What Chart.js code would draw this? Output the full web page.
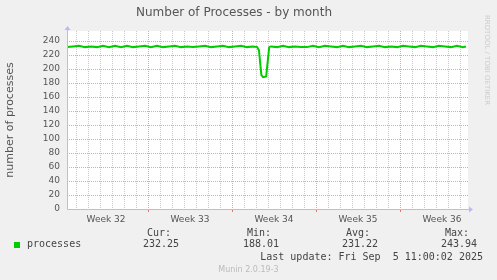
<!DOCTYPE html>
<html>
<head>
<meta charset="utf-8">
<script src="https://cdn.jsdelivr.net/npm/chart.js@4/dist/chart.umd.min.js"></script>
<style>
  html, body { margin: 0; padding: 0; background: #f0f0f0; }
  #wrap { position: relative; width: 497px; height: 280px; overflow: hidden; }
  #wrap canvas { position: absolute; left: 0; top: 0; }
  .lg { position: absolute; font-family: "DejaVu Sans Mono", monospace; font-size: 10px;
        line-height: 10px; color: #444; white-space: pre; }
  #swatch { position: absolute; left: 14px; top: 242px; width: 6px; height: 6px; background: #00cc00; }
  #munin { position: absolute; left: 0; width: 497px; top: 265px; text-align: center;
           font-family: "DejaVu Sans", sans-serif; font-size: 8px; color: #bbb; }
  #rrd { position: absolute; left: 491px; top: 15px; transform: rotate(90deg); transform-origin: 0 0;
         font-family: "DejaVu Sans", sans-serif; font-size: 7px; line-height: 8px; color: #ccc; white-space: pre; }
</style>
</head>
<body>
<div id="wrap">
  <canvas id="chart" width="497" height="280"></canvas>
  <div id="rrd">RRDTOOL / TOBI OETIKER</div>
  <div id="swatch"></div>
  <div class="lg" style="left:27px;top:239px">processes</div>
  <div class="lg" style="right:326px;top:228px">Cur:</div>
  <div class="lg" style="right:318px;top:239px">232.25</div>
  <div class="lg" style="right:226px;top:228px">Min:</div>
  <div class="lg" style="right:218px;top:239px">188.01</div>
  <div class="lg" style="right:127px;top:228px">Avg:</div>
  <div class="lg" style="right:119px;top:239px">231.22</div>
  <div class="lg" style="right:28px;top:228px">Max:</div>
  <div class="lg" style="right:20px;top:239px">243.94</div>
  <div class="lg" style="right:14px;top:252px">Last update: Fri Sep  5 11:00:02 2025</div>
  <div id="munin">Munin 2.0.19-3</div>
</div>
<script>
// days counted from the start of Week 33
const weekLabels = ['Week 32', 'Week 33', 'Week 34', 'Week 35', 'Week 36'];
const weekCenters = [-3.5, 3.5, 10.5, 17.5, 24.5];
const yTickStep = 10;

const times = [-6.75, -6.25, -5.75, -5.25, -4.75, -4.25, -3.75, -3.25, -2.75, -2.25,
  -1.75, -1.25, -0.75, -0.25, 0.25, 0.75, 1.25, 1.75, 2.25, 2.75,
  3.25, 3.75, 4.25, 4.75, 5.25, 5.75, 6.25, 6.75, 7.25, 7.75,
  8.25, 8.75, 9.1, 9.25, 9.45, 9.6, 9.85, 9.95, 10.1, 10.25,
  10.75, 11.25, 11.75, 12.25, 12.75, 13.25, 13.75, 14.25, 14.75, 15.25,
  15.75, 16.25, 16.75, 17.25, 17.75, 18.25, 18.75, 19.25, 19.75, 20.25,
  20.75, 21.25, 21.75, 22.25, 22.75, 23.25, 23.75, 24.25, 24.75, 25.25,
  25.75, 26.25, 26.5];
const processes = [231, 232, 233, 231, 232, 231, 233, 231, 233, 231,
  233, 231, 232, 233, 231, 233, 231, 232, 233, 231,
  232, 231, 232, 233, 231, 232, 233, 231, 232, 233,
  231, 232, 231, 226, 191, 188, 189, 206, 231, 232,
  231, 233, 231, 232, 231, 231, 233, 231, 233, 232,
  231, 233, 231, 232, 233, 231, 232, 233, 231, 232,
  231, 233, 232, 231, 233, 232, 231, 233, 232, 231,
  233, 231, 232];

const X_MIN = -6.75, X_MAX = 26.67;
const Y_MAX = 254;
const MAJOR = '#ff9a9a', MINOR = '#c8c8c8', AXIS = '#b8b8ff';
const TEXT = '#555';

const isCenter = v => weekCenters.some(c => Math.abs(c - v) < 1e-6);

// dotted line made of 1px squares (1 on, 1 off)
function dots(ctx, x1, y1, x2, y2) {
  if (x1 === x2) { for (let y = y1; y <= y2; y += 2) ctx.fillRect(x1, y, 1, 1); }
  else { for (let x = x1; x <= x2; x += 2) ctx.fillRect(x, y1, 1, 1); }
}

// white plot area, dotted munin grid, axis arrows
const muninFrame = {
  id: 'muninFrame',
  beforeDatasetsDraw(chart) {
    const { ctx, chartArea: a, scales } = chart;
    const L = Math.round(a.left), R = Math.round(a.right), T = Math.round(a.top), B = Math.round(a.bottom);
    ctx.save();
    ctx.fillStyle = '#fff';
    ctx.fillRect(L, T, R - L, B - T);
    const minors = [], majors = [];
    scales.x.ticks.forEach(t => {
      if (isCenter(t.value)) return;
      const px = Math.round(scales.x.getPixelForValue(t.value));
      (t.value % 7 === 0 ? majors : minors).push([px, T, px, B]);
    });
    scales.y.ticks.forEach(t => {
      if (t.value === 0) return;
      const py = Math.round(scales.y.getPixelForValue(t.value));
      (t.value % 20 === 0 ? majors : minors).push([L, py, R, py]);
    });
    ctx.fillStyle = MINOR;
    minors.forEach(l => dots(ctx, ...l));
    ctx.fillStyle = MAJOR;
    majors.forEach(l => dots(ctx, ...l));
    // small red ticks under the axis at week boundaries
    ctx.fillStyle = '#f07070';
    scales.x.ticks.forEach(t => {
      if (isCenter(t.value) || t.value % 7 !== 0) return;
      const px = Math.round(scales.x.getPixelForValue(t.value));
      ctx.fillRect(px, B + 1, 1, 2);
    });
    ctx.restore();
  },
  afterDraw(chart) {
    const { ctx, chartArea: a } = chart;
    const x0 = Math.round(a.left) + 0.5, y0 = Math.round(a.bottom) + 0.5;
    ctx.save();
    ctx.strokeStyle = AXIS;
    ctx.fillStyle = AXIS;
    ctx.lineWidth = 1;
    ctx.beginPath();
    ctx.moveTo(x0, y0); ctx.lineTo(a.right + 2, y0);
    ctx.moveTo(x0, y0); ctx.lineTo(x0, a.top - 2);
    ctx.stroke();
    ctx.beginPath();
    ctx.moveTo(a.right + 5, y0); ctx.lineTo(a.right + 1, y0 - 3); ctx.lineTo(a.right + 1, y0 + 3);
    ctx.closePath(); ctx.fill();
    ctx.beginPath();
    ctx.moveTo(x0, a.top - 5); ctx.lineTo(x0 - 3, a.top - 1); ctx.lineTo(x0 + 3, a.top - 1);
    ctx.closePath(); ctx.fill();
    ctx.restore();
  }
};

new Chart(document.getElementById('chart'), {
  type: 'line',
  data: {
    datasets: [{
      label: 'processes',
      data: times.map((t, i) => ({ x: t, y: processes[i] })),
      borderColor: '#00cc00',
      borderWidth: 2,
      pointRadius: 0,
      tension: 0,
      fill: false
    }]
  },
  options: {
    responsive: false,
    animation: false,
    devicePixelRatio: 1,
    layout: { padding: { left: 0, right: 29, top: 0, bottom: 0 } },
    plugins: {
      legend: { display: false },
      tooltip: { enabled: false },
      title: {
        display: true,
        text: 'Number of Processes - by month',
        color: TEXT,
        font: { family: 'DejaVu Sans', size: 12, weight: 'normal' },
        padding: { top: 6, bottom: 10.6 }
      }
    },
    scales: {
      x: {
        type: 'linear',
        min: X_MIN,
        max: X_MAX,
        afterFit: s => { s.height = 71; },
        afterBuildTicks: s => {
          const t = [];
          for (let d = Math.ceil(X_MIN); d <= Math.floor(X_MAX); d++) t.push({ value: d });
          weekCenters.forEach(c => t.push({ value: c }));
          t.sort((a, b) => a.value - b.value);
          s.ticks = t;
        },
        ticks: {
          autoSkip: false,
          maxRotation: 0,
          padding: 5,
          color: TEXT,
          font: { family: 'DejaVu Sans', size: 9 },
          callback: v => {
            const i = weekCenters.findIndex(c => Math.abs(c - v) < 1e-6);
            return i >= 0 ? weekLabels[i] : '';
          }
        },
        grid: { display: false, drawTicks: false },
        border: { display: false }
      },
      y: {
        min: 0,
        max: Y_MAX,
        afterFit: s => { s.width = 67; },
        afterBuildTicks: s => { s.ticks = s.ticks.filter(t => t.value % yTickStep === 0); },
        ticks: {
          stepSize: yTickStep,
          padding: 7,
          color: TEXT,
          font: { family: 'DejaVu Sans', size: 9 },
          callback: v => (v % 20 === 0 ? v : '')
        },
        grid: { display: false, drawTicks: false },
        border: { display: false },
        title: {
          display: true,
          text: 'number of processes',
          color: TEXT,
          font: { family: 'DejaVu Sans', size: 11 },
          padding: { top: 4, bottom: 0 }
        }
      }
    }
  },
  plugins: [muninFrame]
});
</script>
</body>
</html>
